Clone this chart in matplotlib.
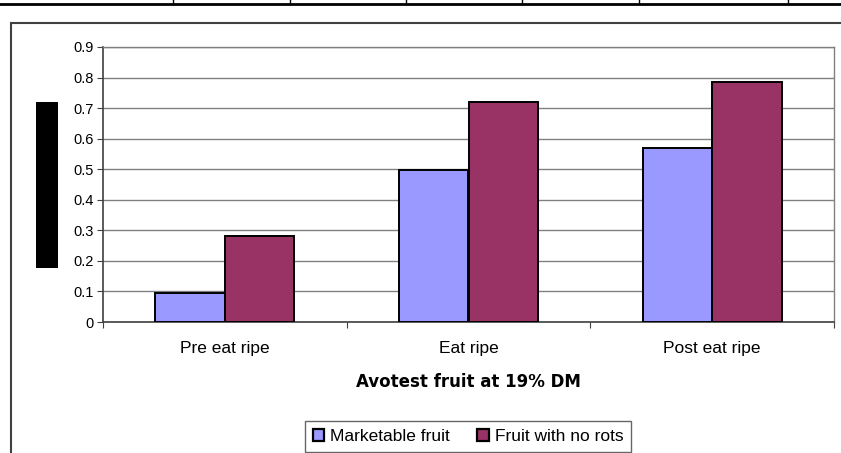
import matplotlib.pyplot as plt
import numpy as np
from matplotlib.lines import Line2D
from matplotlib.patches import Rectangle

plt.rcParams['font.family'] = ['Liberation Sans', 'DejaVu Sans']

categories = ['Pre eat ripe', 'Eat ripe', 'Post eat ripe']
marketable = [0.094, 0.497, 0.570]
no_rots = [0.282, 0.721, 0.785]
series_names = ['Marketable fruit', 'Fruit with no rots']
y_ticks = [0, 0.1, 0.2, 0.3, 0.4, 0.5, 0.6, 0.7, 0.8, 0.9]

W, H = 841, 453
fig = plt.figure(figsize=(W / 100, H / 100), dpi=100)
ax = fig.add_axes([103 / W, 1 - 322 / H, (834 - 103) / W, (322 - 47) / H])

x = np.arange(len(categories))
bw = 0.2857
ax.bar(x - bw / 2, marketable, bw, color='#9999FF', edgecolor='black', linewidth=1.4,
       label=series_names[0], zorder=3)
ax.bar(x + bw / 2, no_rots, bw, color='#993366', edgecolor='black', linewidth=1.4,
       label=series_names[1], zorder=3)

ax.set_xlim(-0.5, len(categories) - 0.5)
ax.set_ylim(0, 0.9)
ax.set_yticks(y_ticks)
ax.set_yticklabels([f'{v:g}' for v in y_ticks], fontsize=10.5)
ax.yaxis.grid(True, color='#808080', linewidth=1.0, zorder=0)

# category boundaries get tick marks, names sit between them
ax.set_xticks(np.arange(len(categories) + 1) - 0.5)
ax.set_xticklabels([])
ax.set_xticks(x, minor=True)
ax.set_xticklabels(categories, minor=True, fontsize=12.5)
ax.tick_params(axis='x', which='major', direction='out', length=4, color='#404040')
ax.tick_params(axis='x', which='minor', length=0, pad=14)
ax.tick_params(axis='y', direction='out', length=4, color='#404040', pad=3)

for s in ['left', 'bottom']:
    ax.spines[s].set_color('#404040')
    ax.spines[s].set_linewidth(1.2)
for s in ['right', 'top']:
    ax.spines[s].set_color('#808080')
    ax.spines[s].set_linewidth(1.0)

ax.set_xlabel('Avotest fruit at 19% DM', fontsize=12, fontweight='bold',
              family='DejaVu Sans', labelpad=12)

leg = fig.legend(loc='upper center', bbox_to_anchor=(468 / W, 1 - 421 / H), ncol=2,
                 fontsize=12.5, frameon=True, fancybox=False, edgecolor='#404040',
                 handlelength=0.65, handleheight=0.65, handletextpad=0.35,
                 columnspacing=1.6, borderpad=0.45, borderaxespad=0)
leg.get_frame().set_linewidth(1.0)
for p in leg.get_patches():
    p.set_linewidth(1.6)

# outer chart frame
fig.add_artist(Rectangle((11 / W, -0.1), 1.1, 1 - 22.5 / H + 0.1, transform=fig.transFigure,
                         fill=False, edgecolor='#404040', linewidth=1.5))

# table border above the chart
fig.add_artist(Line2D([0, 1], [1 - 4 / H, 1 - 4 / H], transform=fig.transFigure,
                      color='black', linewidth=2.0))
for xv in [173, 290, 406, 522, 639, 788]:
    fig.add_artist(Line2D([xv / W, xv / W], [1, 1 - 4 / H], transform=fig.transFigure,
                          color='black', linewidth=1.0))

# blacked-out y-axis title
fig.add_artist(Rectangle((36 / W, 1 - 268 / H), 22 / W, 166 / H, transform=fig.transFigure,
                         facecolor='black', edgecolor='none'))

fig.savefig('out.png', dpi=100)
